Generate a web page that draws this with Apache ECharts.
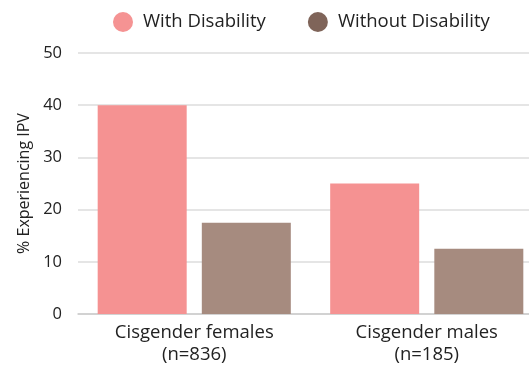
<!DOCTYPE html>
<html>
<head>
<meta charset="utf-8">
<script src="https://cdn.jsdelivr.net/npm/echarts@6/dist/echarts.min.js"></script>
<style>
  html, body { margin: 0; padding: 0; background: #fff; }
  #main { width: 529px; height: 367px; }
</style>
</head>
<body>
<div id="main"></div>
<script>
// data
var categories = ['Cisgender females\n(n=836)', 'Cisgender males\n(n=185)'];
var withDisability = [40, 25];
var withoutDisability = [17.5, 12.5];
var seriesNames = ['With Disability', 'Without Disability'];
var yTicks = [0, 10, 20, 30, 40, 50];

var fontFamily = '"Open Sans", "Noto Sans", sans-serif';

var myChart = echarts.init(document.getElementById('main'));

var option = {
  animation: false,
  textStyle: { fontFamily: fontFamily },
  legend: {
    top: 7,
    left: 108,
    itemWidth: 20,
    itemHeight: 20,
    itemGap: 42,
    icon: 'circle',
    textStyle: { fontSize: 18.5, color: '#222', fontFamily: fontFamily, padding: [0, 0, 0, 5] },
    data: [
      { name: seriesNames[0], itemStyle: { color: '#F59393' } },
      { name: seriesNames[1], itemStyle: { color: '#7F6459' } }
    ]
  },
  grid: { left: 78, width: 465, top: 53, bottom: 53, outerBoundsMode: 'none' },
  xAxis: {
    type: 'category',
    data: categories,
    axisLine: { lineStyle: { color: '#ccc', width: 1.5 } },
    axisTick: { show: false },
    axisLabel: { fontSize: 18.5, color: '#222', lineHeight: 22, margin: 8 }
  },
  yAxis: {
    type: 'value',
    min: yTicks[0],
    max: yTicks[yTicks.length - 1],
    interval: 10,
    name: '% Experiencing IPV',
    nameLocation: 'middle',
    nameGap: 46,
    nameTextStyle: { fontSize: 16, color: '#222' },
    axisLabel: { fontSize: 16.5, color: '#222', margin: 16 },
    splitLine: { lineStyle: { color: '#ddd', width: 1.5 } }
  },
  series: [
    {
      name: seriesNames[0],
      type: 'bar',
      data: withDisability,
      barWidth: 89,
      barGap: '17%',
      itemStyle: { color: '#F59292' }
    },
    {
      name: seriesNames[1],
      type: 'bar',
      data: withoutDisability,
      barWidth: 89,
      barGap: '17%',
      itemStyle: { color: '#A68B7F' }
    }
  ]
};

myChart.setOption(option);
</script>
</body>
</html>
